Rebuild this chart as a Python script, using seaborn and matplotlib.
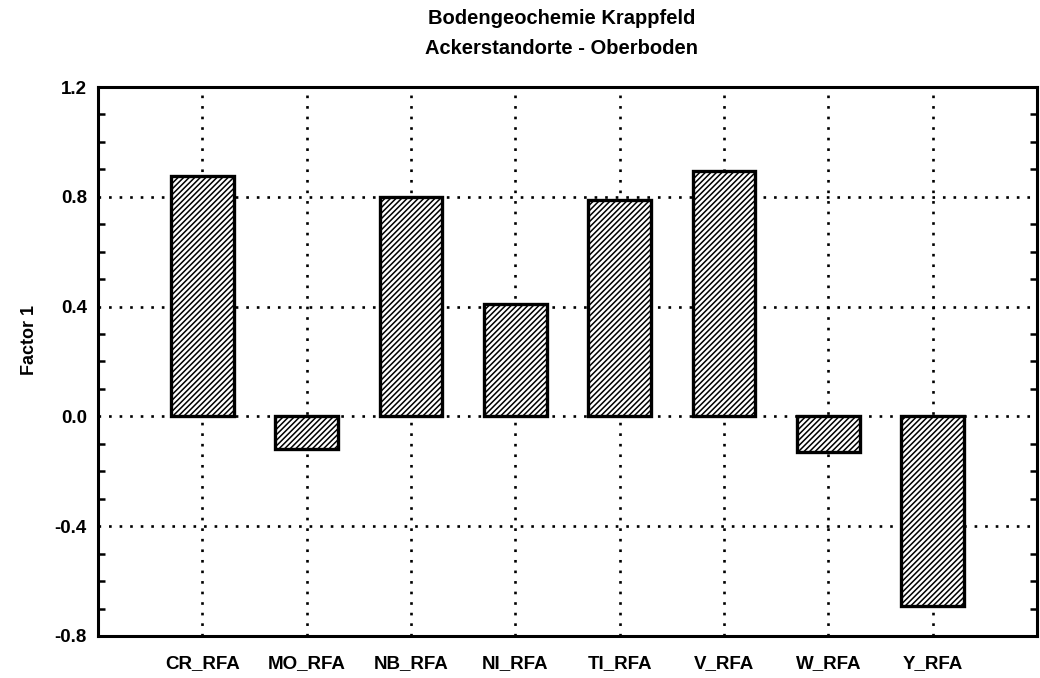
import matplotlib
matplotlib.use("Agg")
import matplotlib.pyplot as plt
import seaborn as sns
import pandas as pd
import numpy as np
from matplotlib.ticker import MultipleLocator, FormatStrFormatter

categories = ["CR_RFA", "MO_RFA", "NB_RFA", "NI_RFA", "TI_RFA", "V_RFA", "W_RFA", "Y_RFA"]
values = [0.875, -0.12, 0.80, 0.41, 0.79, 0.895, -0.13, -0.69]
title_lines = ["Bodengeochemie Krappfeld", "Ackerstandorte - Oberboden"]
ylabel = "Factor 1"
yticks = [-0.8, -0.4, 0.0, 0.4, 0.8, 1.2]

sns.set_theme(style="white")
plt.rcParams['font.family'] = ['Liberation Sans', 'DejaVu Sans']
plt.rcParams['axes.unicode_minus'] = False
plt.rcParams['hatch.linewidth'] = 1.1
plt.rcParams['hatch.color'] = 'black'
plt.rcParams['text.color'] = 'black'

df = pd.DataFrame({"var": categories, "val": values})

fig = plt.figure(figsize=(10.4, 6.78), dpi=100)
ax = fig.add_axes([98/1040, 1 - 636/678, (1037-98)/1040, (636-87)/678])

sns.barplot(data=df, x="var", y="val", ax=ax, color="white", width=0.6,
            edgecolor="black", linewidth=2.4, saturation=1, zorder=3)
for p in ax.patches:
    p.set_hatch("//////")
    p.set_facecolor("white")
    p.set_edgecolor("black")

ax.set_xlim(-1, 8)
ax.set_ylim(-0.8, 1.2)
ax.set_yticks(yticks)
ax.yaxis.set_major_formatter(FormatStrFormatter('%.1f'))
ax.yaxis.set_minor_locator(MultipleLocator(0.1))

ax.grid(True, which='major', axis='both', color='black', linestyle=(0, (1, 3)),
        linewidth=1.9, zorder=1)
ax.set_axisbelow(True)

for s in ax.spines.values():
    s.set_linewidth(2.2)
    s.set_color('black')

ax.tick_params(axis='y', which='both', direction='in', left=True, right=True,
               labelsize=13.5, colors='black', width=1.8)
ax.tick_params(axis='y', which='major', length=0, pad=8)
ax.tick_params(axis='y', which='minor', length=5)
ax.tick_params(axis='x', which='both', length=0, labelsize=13.5, pad=14, colors='black')
for lbl in ax.get_xticklabels() + ax.get_yticklabels():
    lbl.set_fontweight('bold')

ax.set_xlabel("")
ax.set_ylabel("")
fig.text(30/1040, 1 - 340/678, ylabel, rotation=90, ha='center', va='center',
         fontsize=13, fontweight='bold', color='black')

fig.text(0.54, 1 - 18/678, title_lines[0], ha='center', va='center', fontsize=14.5,
         fontweight='bold', color='black')
fig.text(0.54, 1 - 49/678, title_lines[1], ha='center', va='center', fontsize=14.5,
         fontweight='bold', color='black')

fig.savefig("out.png", dpi=100)
